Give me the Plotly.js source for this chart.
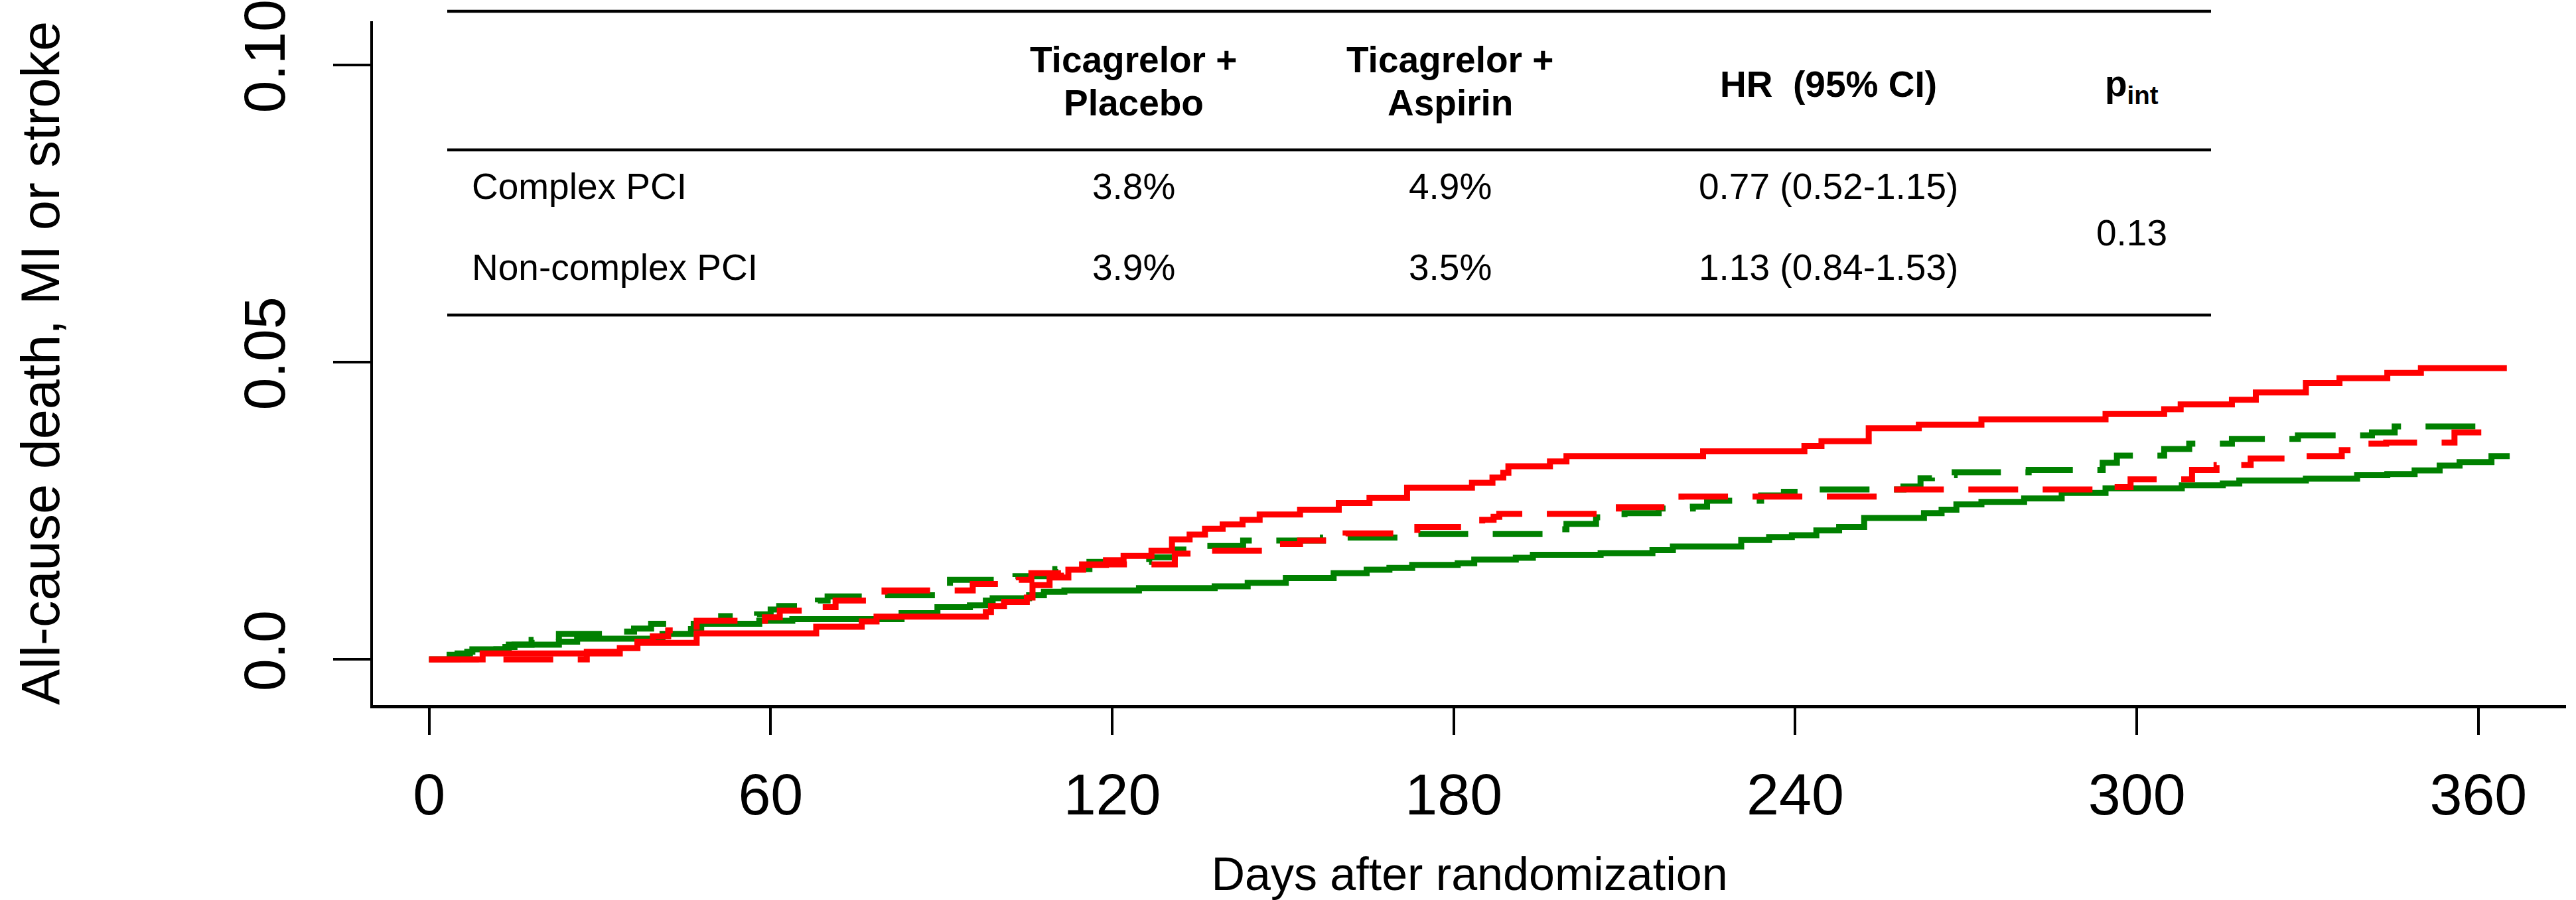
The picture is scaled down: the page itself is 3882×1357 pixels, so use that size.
<!DOCTYPE html>
<html>
<head>
<meta charset="utf-8">
<script src="https://cdn.plot.ly/plotly-3.0.1.min.js"></script>
<style>html,body{margin:0;padding:0;background:#fff;}#chart{width:3882px;height:1357px;}</style>
</head>
<body>
<div id="chart"></div>
<script>
// ---------------- DATA ----------------
// Complex PCI, Ticagrelor + Aspirin (red, solid)
const daysComplexAspirin = [0, 9.4, 33.5, 36.6, 47, 68, 76, 78.6, 97.8, 98.7, 101, 105, 106, 109, 112.3, 114.9, 118.9, 122, 126.9, 130.5, 133.6, 136.3, 139.4, 142.9, 145.9, 153, 159.8, 165.2, 171.8, 183.2, 186.8, 188.7, 189.6, 196.9, 199.8, 223.8, 241.6, 244.6, 252.9, 261.7, 272.7, 294.5, 304.8, 307.7, 316.7, 320.9, 329.7, 335.6, 344, 349.9, 365];
const riskComplexAspirin = [0, 0.001, 0.0019, 0.0028, 0.0044, 0.0055, 0.0064, 0.0072, 0.008, 0.009, 0.0097, 0.0104, 0.0125, 0.0138, 0.0151, 0.0159, 0.0167, 0.0174, 0.0183, 0.0202, 0.021, 0.022, 0.0227, 0.0235, 0.0244, 0.0252, 0.0263, 0.0272, 0.0289, 0.0297, 0.0306, 0.0314, 0.0325, 0.0333, 0.0342, 0.035, 0.0359, 0.0367, 0.0389, 0.0395, 0.0404, 0.0413, 0.0421, 0.0429, 0.0437, 0.0449, 0.0465, 0.0473, 0.0482, 0.049, 0.049];

// Complex PCI, Ticagrelor + Placebo (red, dashed)
const daysComplexPlacebo = [0, 27.7, 36.6, 39.3, 42, 47, 59, 61.6, 69, 71.4, 80, 95.5, 103.6, 105.8, 111, 114.7, 131, 137, 150, 153, 161, 173.6, 185, 187, 188, 209, 220, 257, 294.3, 298.9, 309.7, 314, 320, 326, 336, 337.8, 343.8, 355.8, 363.9];
const riskComplexPlacebo = [0, 0.0013, 0.003, 0.0039, 0.0049, 0.0065, 0.0071, 0.0082, 0.0088, 0.0099, 0.0116, 0.0127, 0.0134, 0.0145, 0.0151, 0.016, 0.0178, 0.0183, 0.0194, 0.02, 0.0212, 0.0223, 0.0235, 0.024, 0.0245, 0.0256, 0.0274, 0.0286, 0.029, 0.0303, 0.0319, 0.0327, 0.0338, 0.0342, 0.0352, 0.0363, 0.0365, 0.0382, 0.0382];

// Non-complex PCI, Ticagrelor + Aspirin (green, solid)
const daysNonComplexAspirin = [0, 3.6, 6.7, 7.6, 13.4, 15, 22.8, 26, 41, 46, 47.8, 58, 63.8, 83, 89.3, 95, 97.8, 99, 105.4, 108, 111.6, 124.7, 138, 143.8, 150.5, 158.9, 164.7, 168.7, 172.7, 180.7, 183.6, 190.9, 193.9, 205.8, 214.9, 218.5, 230.5, 235.4, 239.4, 243.7, 247.7, 252.1, 262.6, 265.7, 268.3, 272.7, 280.2, 286.8, 294.5, 307.9, 315.1, 318, 329.7, 338.7, 344, 348.8, 353.2, 356.7, 362.3, 365.5];
const riskNonComplexAspirin = [0, 0.0008, 0.0013, 0.0017, 0.0021, 0.0025, 0.003, 0.0035, 0.0043, 0.0051, 0.006, 0.0065, 0.0068, 0.0078, 0.0088, 0.0091, 0.0099, 0.0103, 0.0108, 0.0114, 0.0116, 0.012, 0.0123, 0.0129, 0.0137, 0.0145, 0.0151, 0.0154, 0.0159, 0.0162, 0.0168, 0.0171, 0.0176, 0.0179, 0.0184, 0.019, 0.0201, 0.0206, 0.0209, 0.0217, 0.0223, 0.0238, 0.0246, 0.0252, 0.0261, 0.0265, 0.0271, 0.028, 0.0288, 0.0293, 0.0296, 0.0301, 0.0304, 0.031, 0.0312, 0.0318, 0.0326, 0.0332, 0.0342, 0.0342];

// Non-complex PCI, Ticagrelor + Placebo (green, dashed)
const daysNonComplexPlacebo = [0, 5, 9, 14, 18, 22.8, 34, 36, 39, 51.3, 57.6, 60, 61.5, 68.3, 70, 80, 91.5, 103, 110, 116, 126.5, 131, 136.7, 143, 157, 173, 196, 199.8, 205, 210, 216, 222, 224.5, 234, 238, 242, 259, 262, 264, 268, 281, 294, 296.5, 304.8, 309.2, 316.7, 328.3, 341.3, 345.3, 362.5];
const riskNonComplexPlacebo = [0, 0.001, 0.0017, 0.0025, 0.0033, 0.0043, 0.0047, 0.0052, 0.006, 0.0073, 0.0076, 0.0084, 0.009, 0.0099, 0.0106, 0.0108, 0.0134, 0.014, 0.0152, 0.0164, 0.0172, 0.0185, 0.0191, 0.02, 0.0205, 0.0211, 0.0219, 0.0228, 0.0239, 0.0246, 0.0254, 0.0257, 0.0267, 0.0276, 0.0282, 0.0286, 0.0291, 0.0305, 0.031, 0.0315, 0.0319, 0.0331, 0.0343, 0.0354, 0.0363, 0.0371, 0.0377, 0.0382, 0.0392, 0.0393];

// Axis ticks
const xTickVals = [0, 60, 120, 180, 240, 300, 360];
const xTickText = ["0", "60", "120", "180", "240", "300", "360"];
const yTickVals = [0, 0.05, 0.10];
const yTickText = ["0.0", "0.05", "0.10"];

// Inset table
const tableHeaderPlacebo = ["Ticagrelor +", "Placebo"];
const tableHeaderAspirin = ["Ticagrelor +", "Aspirin"];
const tableHeaderHR = "HR\u00a0 (95% CI)";
const tableHeaderP = "p<sub>int</sub>";
const tableRowLabels = ["Complex PCI", "Non-complex PCI"];
const tablePlacebo = ["3.8%", "3.9%"];
const tableAspirin = ["4.9%", "3.5%"];
const tableHR = ["0.77 (0.52-1.15)", "1.13 (0.84-1.53)"];
const tablePint = "0.13";

// ---------------- LAYOUT ----------------
const W = 3882, H = 1357;
const M = {l: 562, r: 15, t: 32, b: 294};
const pw = W - M.l - M.r, ph = H - M.t - M.b;
const px = x => (x - M.l) / pw;          // pixel -> paper (x)
const py = y => 1 - (y - M.t) / ph;      // pixel -> paper (y)

const FONT = "Liberation Sans, Arial, Helvetica, sans-serif";
const RED = "#ff0000", GREEN = "#008000";
const LW = 9;
const DASH = "75px,37px";

function trace(x, y, color, dash) {
  return {x: x, y: y, type: "scatter", mode: "lines",
    line: {shape: "hv", color: color, width: LW, dash: dash},
    hoverinfo: "skip", showlegend: false};
}

const data = [
  trace(daysNonComplexAspirin, riskNonComplexAspirin, GREEN, "solid"),
  trace(daysNonComplexPlacebo, riskNonComplexPlacebo, GREEN, DASH),
  trace(daysComplexAspirin, riskComplexAspirin, RED, "solid"),
  trace(daysComplexPlacebo, riskComplexPlacebo, RED, DASH)
];

// table geometry (pixels)
const tLeft = 674, tRight = 3332;
const lineYs = [17, 226, 475];
const colX = {label: 709, placebo: 1708, aspirin: 2185, hr: 2755, p: 3212};
const TF = 55;
const centerOf = base => base - 0.35 * TF;

const shapes = lineYs.map(y => ({type: "line", xref: "paper", yref: "paper",
  x0: px(tLeft), x1: px(tRight), y0: py(y), y1: py(y),
  line: {color: "#000", width: 4.5}}));

const annotations = [];
function ann(text, x, yBase, anchor, bold) {
  annotations.push({xref: "paper", yref: "paper", x: px(x), y: py(centerOf(yBase)),
    xanchor: anchor, yanchor: "middle", showarrow: false,
    text: bold ? "<b>" + text + "</b>" : text,
    font: {family: FONT, size: TF, color: "#000"}});
}
ann(tableHeaderPlacebo[0], colX.placebo, 109, "center", true);
ann(tableHeaderPlacebo[1], colX.placebo, 174, "center", true);
ann(tableHeaderAspirin[0], colX.aspirin, 109, "center", true);
ann(tableHeaderAspirin[1], colX.aspirin, 174, "center", true);
ann(tableHeaderHR, colX.hr, 146, "center", true);
ann(tableHeaderP, colX.p, 149, "center", true);
const rowBase = [300, 422];
for (let i = 0; i < tableRowLabels.length; i++) {
  ann(tableRowLabels[i], colX.label, rowBase[i], "left", false);
  ann(tablePlacebo[i], colX.placebo, rowBase[i], "center", false);
  ann(tableAspirin[i], colX.aspirin, rowBase[i], "center", false);
  ann(tableHR[i], colX.hr, rowBase[i], "center", false);
}
ann(tablePint, colX.p, 370, "center", false);

const layout = {
  width: W, height: H,
  margin: M,
  paper_bgcolor: "#fff", plot_bgcolor: "#fff",
  font: {family: FONT, color: "#000"},
  showlegend: false,
  xaxis: {
    range: [-9.87, 375.4], autorange: false, automargin: false,
    showgrid: false, zeroline: false,
    showline: true, linecolor: "#000", linewidth: 4.5,
    ticks: "outside", ticklen: 40, tickwidth: 4, tickcolor: "#000",
    tickvals: xTickVals, ticktext: xTickText,
    tickfont: {family: FONT, size: 88, color: "#000"},
    ticklabelstandoff: 15,
    title: {text: "Days after randomization", font: {family: FONT, size: 70, color: "#000"}, standoff: 60}
  },
  yaxis: {
    range: [-0.00766, 0.10736], autorange: false, automargin: false,
    showgrid: false, zeroline: false,
    showline: true, linecolor: "#000", linewidth: 4.5,
    ticks: "outside", ticklen: 56, tickwidth: 4, tickcolor: "#000",
    tickvals: yTickVals, ticktext: yTickText, tickangle: -90,
    ticklabeloverflow: "allow",
    tickfont: {family: FONT, size: 88, color: "#000"},
    ticklabelstandoff: 37,
    title: {text: "All-cause death, MI or stroke", font: {family: FONT, size: 81, color: "#000"}, standoff: 234}
  },
  shapes: shapes,
  annotations: annotations
};

Plotly.newPlot("chart", data, layout, {staticPlot: true, displayModeBar: false});
</script>
</body>
</html>
